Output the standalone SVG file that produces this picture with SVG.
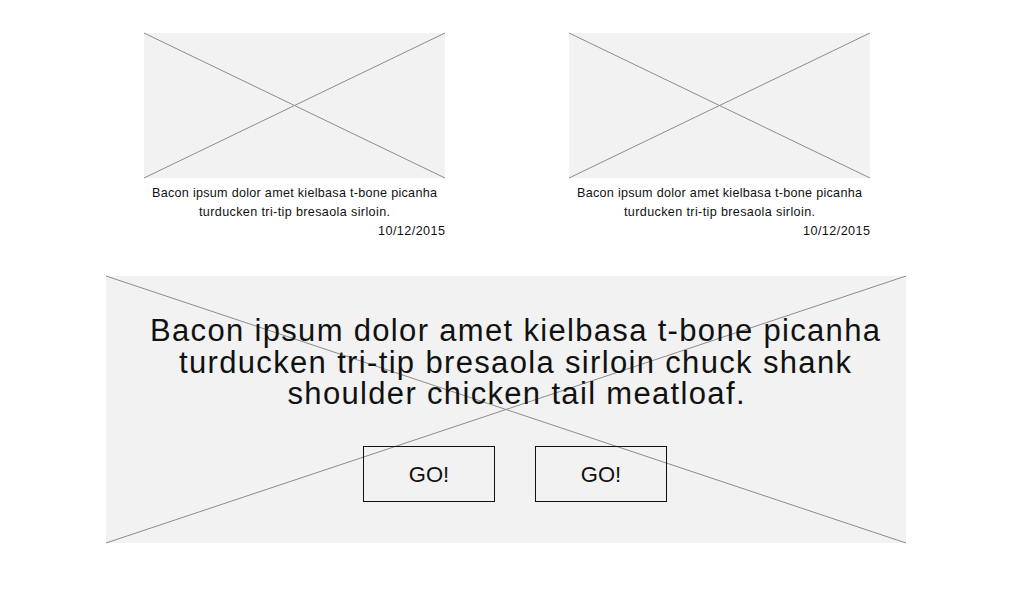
<svg xmlns="http://www.w3.org/2000/svg" width="1018" height="602" viewBox="0 0 1018 602">
<style>
.ph{fill:#f2f2f2;stroke:none}
.x{stroke:#8c8c8c;stroke-width:1;fill:none}
.t{font-family:"Liberation Sans",Arial,sans-serif;fill:#111}
.sm{font-size:12.6px}
.big{font-size:31px}
.btn{fill:none;stroke:#111;stroke-width:1}
.go{font-size:22px}
</style>
<rect width="1018" height="602" fill="#ffffff"/>
<g id="card1">
<rect class="ph" x="144" y="33" width="301" height="145"/>
<line class="x" x1="144" y1="33" x2="445" y2="178"/>
<line class="x" x1="445" y1="33" x2="144" y2="178"/>
<text class="t sm" x="294.5" y="197" text-anchor="middle" textLength="285" lengthAdjust="spacing">Bacon ipsum dolor amet kielbasa t-bone picanha</text>
<text class="t sm" x="294.5" y="216" text-anchor="middle" textLength="191" lengthAdjust="spacing">turducken tri-tip bresaola sirloin.</text>
<text class="t sm" x="445" y="235" text-anchor="end" textLength="67" lengthAdjust="spacing">10/12/2015</text>
</g>
<g id="card2">
<rect class="ph" x="569" y="33" width="301" height="145"/>
<line class="x" x1="569" y1="33" x2="870" y2="178"/>
<line class="x" x1="870" y1="33" x2="569" y2="178"/>
<text class="t sm" x="719.5" y="197" text-anchor="middle" textLength="285" lengthAdjust="spacing">Bacon ipsum dolor amet kielbasa t-bone picanha</text>
<text class="t sm" x="719.5" y="216" text-anchor="middle" textLength="191" lengthAdjust="spacing">turducken tri-tip bresaola sirloin.</text>
<text class="t sm" x="870" y="235" text-anchor="end" textLength="67" lengthAdjust="spacing">10/12/2015</text>
</g>
<g id="hero">
<rect class="ph" x="106" y="276" width="800" height="267"/>
<line class="x" x1="106" y1="276" x2="906" y2="543"/>
<line class="x" x1="906" y1="276" x2="106" y2="543"/>
<text class="t big" x="515" y="341" text-anchor="middle" textLength="730" lengthAdjust="spacing">Bacon ipsum dolor amet kielbasa t-bone picanha</text>
<text class="t big" x="515" y="373" text-anchor="middle" textLength="672" lengthAdjust="spacing">turducken tri-tip bresaola sirloin chuck shank</text>
<text class="t big" x="516" y="404" text-anchor="middle" textLength="457" lengthAdjust="spacing">shoulder chicken tail meatloaf.</text>
</g>
<g id="btn1">
<rect class="btn" x="363.5" y="446.5" width="131" height="55"/>
<text class="t go" x="429" y="482" text-anchor="middle">GO!</text>
</g>
<g id="btn2">
<rect class="btn" x="535.5" y="446.5" width="131" height="55"/>
<text class="t go" x="601" y="482" text-anchor="middle">GO!</text>
</g>
</svg>
